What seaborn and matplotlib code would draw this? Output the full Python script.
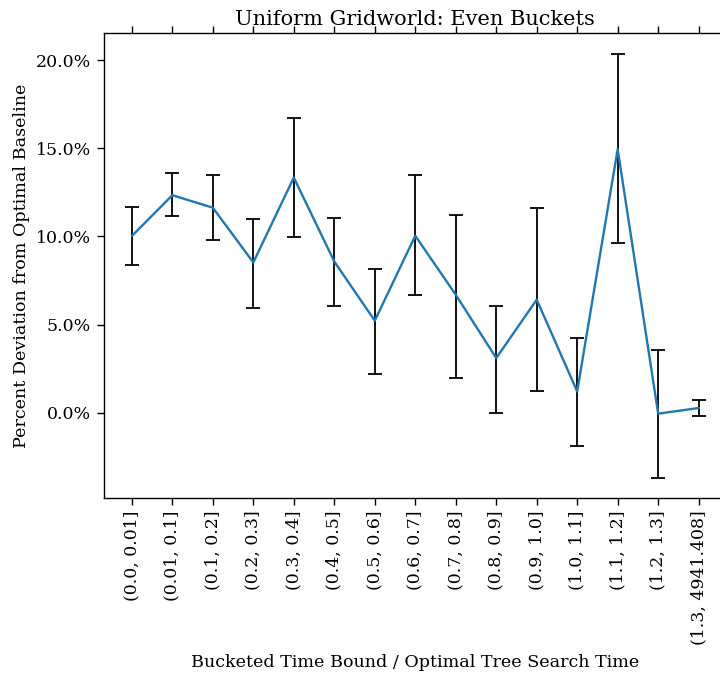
import matplotlib
matplotlib.use("Agg")
import matplotlib.pyplot as plt
from matplotlib.ticker import PercentFormatter
import seaborn as sns
import pandas as pd

# Time-bound buckets (ratio of bucketed bound to optimal tree search time)
buckets = ["(0.0, 0.01]", "(0.01, 0.1]", "(0.1, 0.2]", "(0.2, 0.3]", "(0.3, 0.4]",
           "(0.4, 0.5]", "(0.5, 0.6]", "(0.6, 0.7]", "(0.7, 0.8]", "(0.8, 0.9]",
           "(0.9, 1.0]", "(1.0, 1.1]", "(1.1, 1.2]", "(1.2, 1.3]", "(1.3, 4941.408]"]

# Mean deviation from the optimal baseline (fraction) and its interval bounds
mean_dev = [0.1003, 0.1234, 0.1163, 0.0853, 0.1334, 0.0858, 0.0523, 0.1004,
            0.0670, 0.0311, 0.0642, 0.0122, 0.1495, -0.0004, 0.0028]
lower_dev = [0.0840, 0.1116, 0.0980, 0.0595, 0.0997, 0.0604, 0.0221, 0.0666,
             0.0196, 0.0002, 0.0122, -0.0189, 0.0964, -0.0366, -0.0016]
upper_dev = [0.1168, 0.1357, 0.1349, 0.1100, 0.1672, 0.1106, 0.0817, 0.1349,
             0.1123, 0.0608, 0.1161, 0.0422, 0.2035, 0.0354, 0.0072]

df = pd.DataFrame({"bucket": buckets, "dev": mean_dev,
                   "lo": lower_dev, "hi": upper_dev})

sns.set_style("ticks")
plt.rcParams["font.family"] = ["DejaVu Serif"]
plt.rcParams["mathtext.fontset"] = "dejavuserif"
for key in ["text.color", "axes.labelcolor", "xtick.color", "ytick.color", "axes.edgecolor"]:
    plt.rcParams[key] = "black"

fig = plt.figure(figsize=(7.2, 6.74), dpi=100)
ax = fig.add_axes([0.1438, 0.2611, 0.8659, 0.6899])

yerr = [df["dev"] - df["lo"], df["hi"] - df["dev"]]
ax.errorbar(df["bucket"], df["dev"], yerr=yerr, fmt="none", ecolor="black",
            elinewidth=1.3, capsize=5, capthick=1.3, zorder=2)
sns.lineplot(data=df, x="bucket", y="dev", sort=False, color="#1f77b4",
             linewidth=1.7, ax=ax, zorder=3)

ax.set_xlim(-0.7, 14.7)
ax.set_ylim(-0.0482, 0.2153)
ax.set_yticks([0.0, 0.05, 0.10, 0.15, 0.20])
ax.yaxis.set_major_formatter(PercentFormatter(xmax=1, decimals=1))

ax.tick_params(axis="x", top=True, bottom=True, labelrotation=90,
               labelsize=12.5, length=5, width=1, color="black", pad=4)
ax.tick_params(axis="y", labelsize=12.5, length=5, width=1, color="black", pad=4)

for side in ["top", "left", "bottom", "right"]:
    ax.spines[side].set_visible(True)
    ax.spines[side].set_color("black")
    ax.spines[side].set_linewidth(1.0)

ax.set_title("Uniform Gridworld: Even Buckets", fontsize=15, pad=6)
ax.set_xlabel("Bucketed Time Bound / Optimal Tree Search Time", fontsize=12.6, labelpad=6)
ax.set_ylabel("Percent Deviation from Optimal Baseline", fontsize=12.6, labelpad=4)

fig.savefig("out.png", dpi=100)
